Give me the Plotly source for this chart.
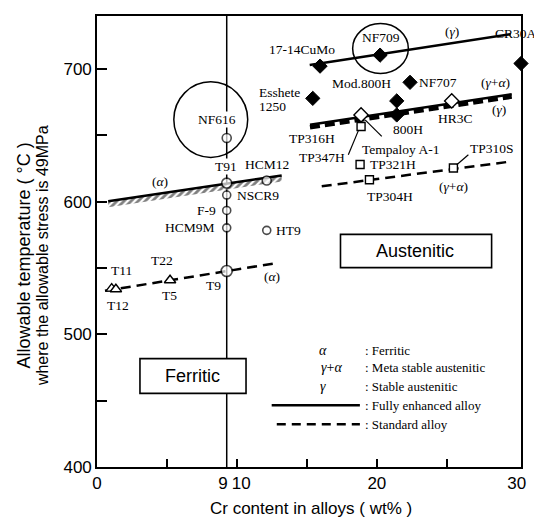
import plotly.graph_objects as go

# ---------------- data (Cr wt%, allowable temperature degC) ----------------
cr9_line = 9.27  # 9Cr steels column

ferritic_names = ["NF616", "T91", "NSCR9", "F-9", "HCM9M", "T9", "HCM12", "HT9"]
ferritic_cr = [9.27, 9.27, 9.27, 9.27, 9.27, 9.27, 12.13, 12.13]
ferritic_temp = [648.0, 614.0, 605.0, 593.4, 580.3, 547.8, 616.0, 578.4]
ferritic_size = [9, 10, 8, 8, 8, 11, 9, 8]

low_names = ["T11", "T12", "T5 / T22"]
low_cr = [1.05, 1.35, 5.22]
low_temp = [534.5, 534.0, 540.8]

sq_names = ["TP347H", "TP321H", "TP304H", "TP310S"]
sq_cr = [18.87, 18.80, 19.47, 25.47]
sq_temp = [656.7, 628.0, 616.6, 625.4]

fd_names = ["17-14CuMo", "NF709", "CR30A", "NF707", "Esshete 1250", "Mod.800H", "800H"]
fd_cr = [15.94, 20.23, 30.30, 22.37, 15.42, 21.42, 21.42]
fd_temp = [702.2, 710.5, 704.2, 690.0, 677.9, 676.0, 665.4]

od_names = ["Tempaloy A-1", "HR3C"]
od_cr = [18.87, 25.35]
od_temp = [665.4, 676.0]

# trend lines
ferr_enh_cr, ferr_enh_t = [0.8, 13.2], [600.4, 619.8]      # (alpha) fully enhanced
ferr_std_cr, ferr_std_t = [0.57, 12.56], [532.8, 553.3]    # (alpha) standard
aus_top_cr, aus_top_t = [15.2, 29.57], [703.0, 726.3]      # (gamma) fully enhanced
aus_mid_cr, aus_mid_t = [15.22, 29.64], [658.0, 681.0]     # (gamma) enhanced / standard
aus_low_cr, aus_low_t = [16.06, 29.64], [611.6, 630.4]     # (gamma+alpha) standard

x_tickvals = [0, 9, 10.3, 20, 30]
x_ticktext = ["0", "9", "10", "20", "30"]
y_tickvals = [400, 500, 600, 700]

SERIF = "Liberation Serif"
SANS = "Liberation Sans"

fig = go.Figure()

# 9Cr vertical line
fig.add_trace(go.Scatter(x=[cr9_line, cr9_line], y=[400, 740], mode="lines",
                         line=dict(color="black", width=1.5), hoverinfo="skip"))

# hatched ferritic enhanced line
fig.add_trace(go.Scatter(x=ferr_enh_cr, y=[t - 4.5 for t in ferr_enh_t], mode="lines",
                         line=dict(width=0, color="rgba(0,0,0,0)"), hoverinfo="skip"))
fig.add_trace(go.Scatter(x=ferr_enh_cr, y=ferr_enh_t, mode="lines",
                         line=dict(color="black", width=2.5), fill="tonexty",
                         fillcolor="white",
                         fillpattern=dict(shape="/", fgcolor="black", bgcolor="white",
                                          size=5, solidity=0.55)))
# ferritic standard dashed
fig.add_trace(go.Scatter(x=ferr_std_cr, y=ferr_std_t, mode="lines",
                         line=dict(color="black", width=2.5, dash="10px,6px")))
# austenitic lines
fig.add_trace(go.Scatter(x=aus_top_cr, y=aus_top_t, mode="lines",
                         line=dict(color="black", width=2.5)))
fig.add_trace(go.Scatter(x=aus_mid_cr, y=[t - 1.8 for t in aus_mid_t], mode="lines",
                         line=dict(color="black", width=4.5, dash="10px,5px")))
fig.add_trace(go.Scatter(x=aus_mid_cr, y=aus_mid_t, mode="lines",
                         line=dict(color="black", width=2.5)))
fig.add_trace(go.Scatter(x=aus_low_cr, y=aus_low_t, mode="lines",
                         line=dict(color="black", width=2.5, dash="10px,6px")))

# markers
fig.add_trace(go.Scatter(x=ferritic_cr, y=ferritic_temp, mode="markers", text=ferritic_names,
                         marker=dict(symbol="circle", size=ferritic_size, color="white",
                                     line=dict(color="black", width=1.6))))
fig.add_trace(go.Scatter(x=low_cr, y=low_temp, mode="markers", text=low_names,
                         marker=dict(symbol="triangle-up", size=10, color="white",
                                     line=dict(color="black", width=1.4))))
fig.add_trace(go.Scatter(x=sq_cr, y=sq_temp, mode="markers", text=sq_names,
                         marker=dict(symbol="square", size=8, color="white",
                                     line=dict(color="black", width=1.4))))
fig.add_trace(go.Scatter(x=fd_cr, y=fd_temp, mode="markers", text=fd_names, cliponaxis=False,
                         marker=dict(symbol="diamond", size=11, color="black",
                                     line=dict(color="black", width=1))))
fig.add_trace(go.Scatter(x=od_cr, y=od_temp, mode="markers", text=od_names,
                         marker=dict(symbol="diamond", size=11, color="white",
                                     line=dict(color="black", width=1.4))))

shapes = []
# highlight circles (NF616, NF709)
circles = [(5.49, 633.4, 10.77, 690.4), (18.27, 696.7, 22.25, 734.3)]
for x0, y0, x1, y1 in circles:
    shapes.append(dict(type="circle", xref="x", yref="y", x0=x0, y0=y0, x1=x1, y1=y1,
                       line=dict(color="black", width=1.5), layer="below"))
# leader lines
leaders = [((18.67, 653.4), (17.96, 635.4)), ((19.16, 661.7), (20.35, 649.2)),
           ((25.71, 627.9), (26.54, 635.4))]
for (xa, ya), (xb, yb) in leaders:
    shapes.append(dict(type="line", xref="x", yref="y", x0=xa, y0=ya, x1=xb, y1=yb,
                       line=dict(color="black", width=1.2)))
# region boxes
shapes.append(dict(type="rect", xref="x", yref="y", x0=3.07, y0=455.5, x1=10.65, y1=481.7,
                   fillcolor="white", line=dict(color="black", width=1.6), layer="above"))
shapes.append(dict(type="rect", xref="x", yref="y", x0=17.4, y0=550.3, x1=28.2, y1=575.4,
                   fillcolor="white", line=dict(color="black", width=1.6), layer="above"))
# legend samples
shapes.append(dict(type="line", xref="paper", yref="paper", x0=0.412, x1=0.620, y0=0.137, y1=0.137,
                   line=dict(color="black", width=2.5)))
shapes.append(dict(type="line", xref="paper", yref="paper", x0=0.424, x1=0.620, y0=0.095, y1=0.095,
                   line=dict(color="black", width=2.5, dash="9px,6px")))

annotations = []
LS = 13.5


def lab(text, x, y, xanchor="center", size=LS, bg=None, font=SERIF, align="center"):
    d = dict(text=text, x=x, y=y, xref="x", yref="y", showarrow=False,
             xanchor=xanchor, yanchor="middle", align=align,
             font=dict(family=font, size=size, color="black"))
    if bg:
        d["bgcolor"] = bg
        d["borderpad"] = 0
    annotations.append(d)


A = "<i>α</i>"
G = "<i>γ</i>"
lab("NF616", 8.6, 662, bg="white")
lab("NF709", 20.28, 723.5)
lab("17-14CuMo", 14.65, 714.5)
lab("Esshete", 11.4, 682.0, xanchor="left")
lab("1250", 11.4, 671.8, xanchor="left")
lab("Mod.800H", 18.87, 689.2)
lab("NF707", 24.34, 690)
lab("(" + G + "+" + A + ")", 28.45, 690)
lab("(" + G + ")", 25.35, 728)
lab("(" + G + ")", 28.7, 669.2)
lab("HR3C", 25.6, 662.4)
lab("800H", 22.2, 654.2)
lab("Tempaloy A-1", 21.7, 639)
lab("TP316H", 15.37, 647.9)
lab("TP347H", 16.07, 633)
lab("TP321H", 21.16, 628)
lab("TP304H", 20.94, 604)
lab("TP310S", 28.24, 640.4)
lab("(" + G + "+" + A + ")", 25.47, 611.6)
lab("T91", 9.2, 626.6, bg="white")
lab("HCM12", 12.15, 628)
lab("(" + A + ")", 4.5, 615)
lab("NSCR9", 9.86, 605, xanchor="left")
lab("F-9", 7.79, 593.4)
lab("HCM9M", 6.65, 580.3)
lab("HT9", 13.65, 578.4)
lab("T22", 4.62, 555.8)
lab("T11", 1.76, 547.8)
lab("T12", 1.5, 521.5)
lab("T5", 5.2, 529)
lab("T9", 8.36, 536.5)
lab("(" + A + ")", 12.5, 543.3)
lab("Ferritic", 6.86, 468.6, size=18, font=SANS)
lab("Austenitic", 22.73, 562.8, size=18, font=SANS)


def plab(text, x, y, xanchor="left", size=13, font=SERIF, angle=0):
    annotations.append(dict(text=text, x=x, y=y, xref="paper", yref="paper", showarrow=False,
                            xanchor=xanchor, yanchor="middle", textangle=angle,
                            font=dict(family=font, size=size, color="black")))


# label sitting on the right frame
plab("CR30A", 1.042, 0.9615, xanchor="right", size=LS)

# legend text
plab(A, 0.534, 0.258, xanchor="center", size=14)
plab(G + "+" + A, 0.553, 0.220, xanchor="center", size=14)
plab(G, 0.534, 0.179, xanchor="center", size=14)
plab(": Ferritic", 0.627, 0.258)
plab(": Meta stable austenitic", 0.627, 0.220)
plab(": Stable austenitic", 0.627, 0.179)
plab(": Fully enhanced alloy", 0.627, 0.137)
plab(": Standard alloy", 0.627, 0.095)

# axis titles
plab("Cr content in alloys ( wt% )", 0.504, -0.0927, xanchor="center", size=17, font=SANS)
plab("Allowable temperature ( °C )", -0.173, 0.468, xanchor="center", size=18, font=SANS, angle=-90)
plab("where the allowable stress is 49MPa", -0.127, 0.468, xanchor="center", size=16, font=SANS, angle=-90)

# the page body adds an 8 px margin, so the figure is sized to fill the rest of the window
fig.update_layout(
    width=534, height=515,
    margin=dict(l=89, r=21, t=6, b=56),
    paper_bgcolor="white", plot_bgcolor="white",
    showlegend=False,
    shapes=shapes, annotations=annotations,
    xaxis=dict(range=[0, 30.3], showgrid=False, zeroline=False,
               showline=True, linecolor="black", linewidth=1.6, mirror=True,
               tickmode="array", tickvals=x_tickvals, ticktext=x_ticktext, ticks="",
               tickfont=dict(family=SANS, size=17, color="black"),
               minor=dict(tickmode="array", tickvals=[5, 10, 15, 20, 25], ticks="inside",
                          ticklen=8, tickwidth=1.5, tickcolor="black", showgrid=False)),
    yaxis=dict(range=[400, 740], showgrid=False, zeroline=False,
               showline=True, linecolor="black", linewidth=1.6, mirror=True,
               tickmode="array", tickvals=y_tickvals, ticks="inside", ticklen=10,
               tickwidth=1.5, tickcolor="black",
               tickfont=dict(family=SANS, size=17, color="black"),
               minor=dict(tickmode="array", tickvals=[450, 550, 650], ticks="inside",
                          ticklen=10, tickwidth=1.5, tickcolor="black", showgrid=False)),
)

fig.write_html("out.html")
